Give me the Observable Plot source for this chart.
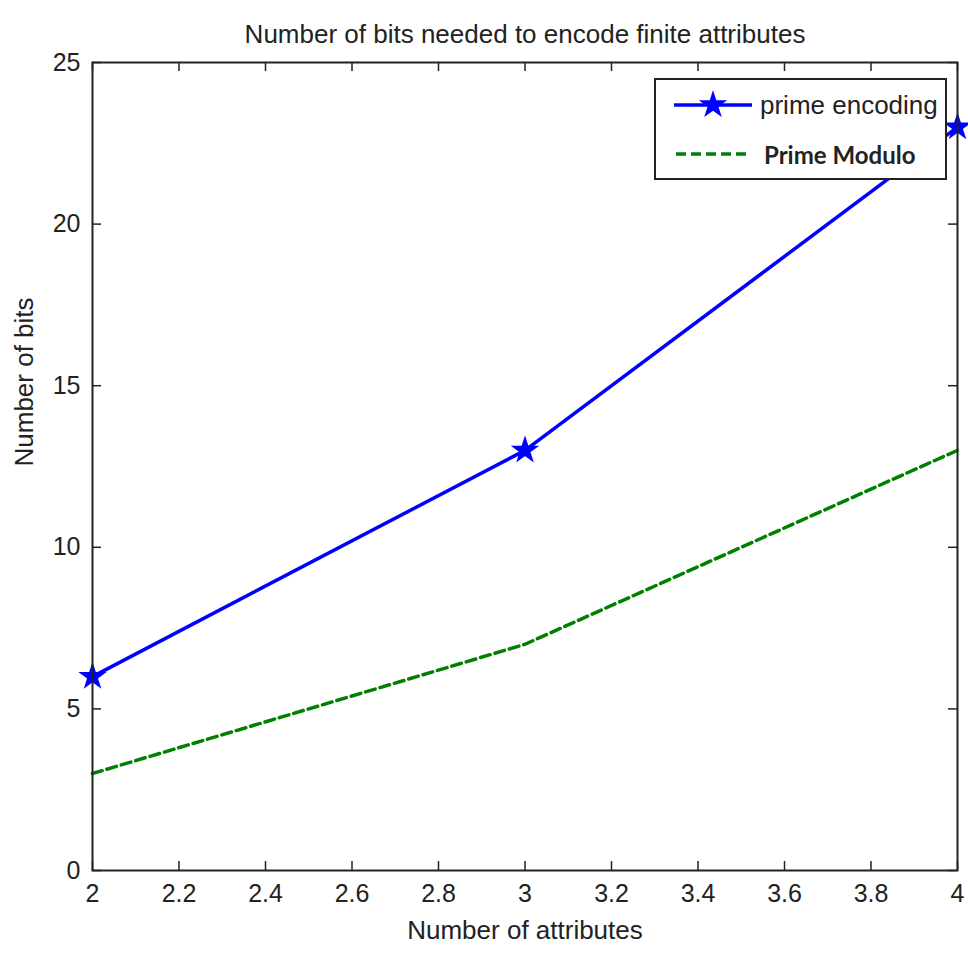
<!DOCTYPE html>
<html>
<head>
<meta charset="utf-8">
<script src="https://cdn.jsdelivr.net/npm/d3@7"></script>
<script src="https://cdn.jsdelivr.net/npm/@observablehq/plot@0.6"></script>
<style>
  body { margin: 0; background: #fff; }
  #wrap { position: relative; width: 968px; height: 955px; }
  #legend {
    position: absolute; left: 654px; top: 78px; width: 289px; height: 98px;
    border: 2px solid #222; background: #fff; box-sizing: content-box;
  }
  #legend .row { position: absolute; left: 0; display: flex; align-items: center; white-space: nowrap; }
  .t1 { font-family: "Liberation Sans", Arial, sans-serif; font-size: 26px; color: #222; }
  .t2 { font-family: Lato, "Open Sans", sans-serif; font-weight: bold; font-size: 24px; color: #222; }
</style>
</head>
<body>
<div id="wrap"></div>
<script>
const titleText = "Number of bits needed to encode finite attributes";
const xLabel = "Number of attributes";
const yLabel = "Number of bits";
const attributes = [2, 3, 4];
const primeEncoding = [6, 13, 23];
const primeModulo = [3, 7, 13];
const xTicks = [2, 2.2, 2.4, 2.6, 2.8, 3, 3.2, 3.4, 3.6, 3.8, 4];
const yTicks = [0, 5, 10, 15, 20, 25];
const seriesNames = ["prime encoding", "Prime Modulo"];

const enc = attributes.map((x, i) => ({x, y: primeEncoding[i]}));
const mod = attributes.map((x, i) => ({x, y: primeModulo[i]}));

const W = 968, H = 955, ML = 92, MR = 11, MT = 62, MB = 85;
const pw = W - ML - MR, ph = H - MT - MB, tk = 9;
const font = '"Liberation Sans", Arial, sans-serif';

const chart = Plot.plot({
  width: W, height: H,
  marginLeft: ML, marginRight: MR, marginTop: MT, marginBottom: MB,
  style: {fontFamily: font, fontSize: "25px", color: "#222", background: "#fff"},
  x: {domain: [2, 4]},
  y: {domain: [0, 25]},
  marks: [
    Plot.axisX({ticks: xTicks, tickSize: 0, tickPadding: 14, tickFormat: d => String(d), label: null, fontSize: 25}),
    Plot.axisY({ticks: yTicks, tickSize: 0, tickPadding: 12, tickFormat: d => String(d), label: null, fontSize: 25}),
    Plot.tickX(xTicks, {x: d => d, insetTop: ph - tk, stroke: "#222", strokeWidth: 1.5}),
    Plot.tickX(xTicks, {x: d => d, insetBottom: ph - tk, stroke: "#222", strokeWidth: 1.5}),
    Plot.tickY(yTicks, {y: d => d, insetRight: pw - tk, stroke: "#222", strokeWidth: 1.5}),
    Plot.tickY(yTicks, {y: d => d, insetLeft: pw - tk, stroke: "#222", strokeWidth: 1.5}),
    Plot.line(mod, {x: "x", y: "y", stroke: "#008000", strokeWidth: 3.5, strokeDasharray: "10,5"}),
    Plot.line(enc, {x: "x", y: "y", stroke: "#0000ff", strokeWidth: 3.5}),
    Plot.dot(enc, {x: "x", y: "y", symbol: "star", r: 7.5, fill: "#0000ff", stroke: "#0000ff", strokeWidth: 1.5}),
    Plot.frame({stroke: "#222", strokeWidth: 2}),
    Plot.text([titleText], {text: d => d, frameAnchor: "top", dy: -38, fontSize: 26, fill: "#222"}),
    Plot.text([xLabel], {text: d => d, frameAnchor: "bottom", dy: 68, fontSize: 26, fill: "#222"}),
    Plot.text([yLabel], {text: d => d, frameAnchor: "left", dx: -68, rotate: -90, fontSize: 26, fill: "#222"})
  ]
});

const wrap = document.getElementById("wrap");
wrap.appendChild(chart);

const legend = document.createElement("div");
legend.id = "legend";
const sym = d3.symbol(d3.symbolStar, Math.PI * 7.5 * 7.5)();
legend.innerHTML = `
  <div class="row" style="top:8px;left:16px;">
    <svg width="82" height="34"><line x1="2" y1="17" x2="80" y2="17" stroke="#0000ff" stroke-width="3.5"/>
      <path d="${sym}" transform="translate(41,17)" fill="#0000ff" stroke="#0000ff" stroke-width="1.5"/></svg>
    <span class="t1" style="margin-left:6px">${seriesNames[0]}</span>
  </div>
  <div class="row" style="top:57px;left:18px;">
    <svg width="76" height="34"><line x1="2" y1="17" x2="76" y2="17" stroke="#008000" stroke-width="3.5" stroke-dasharray="10,5"/></svg>
    <span class="t2" style="margin-left:14px">${seriesNames[1]}</span>
  </div>`;
wrap.appendChild(legend);
</script>
</body>
</html>
